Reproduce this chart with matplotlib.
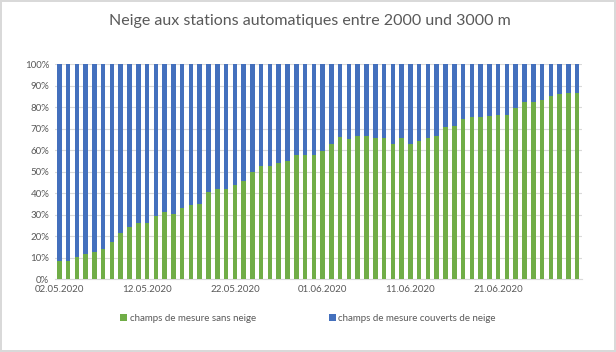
import matplotlib
matplotlib.use("Agg")
import matplotlib.pyplot as plt
import numpy as np
from datetime import date, timedelta

# share of measuring fields without snow (%), one per day from 02.05.2020
sans_neige = [8.7, 8.7, 10.5, 11.6, 12.7, 13.9, 17.5, 21.7, 24.1, 26.3,
              26.3, 29.4, 31.3, 30.2, 33.3, 34.5, 35.0, 40.7, 42.1, 41.8,
              43.8, 45.7, 49.7, 52.8, 52.8, 53.9, 55.0, 57.7, 57.7, 57.7,
              59.8, 62.7, 65.9, 65.0, 66.6, 66.6, 65.5, 65.5, 62.7, 65.5,
              62.8, 64.4, 65.8, 66.6, 70.6, 71.2, 74.5, 75.5, 75.5, 75.9,
              76.3, 76.3, 79.4, 82.5, 82.5, 83.3, 85.3, 85.9, 86.4, 86.4]
couverts = [100 - v for v in sans_neige]

start = date(2020, 5, 2)
dates = [start + timedelta(days=i) for i in range(len(sans_neige))]
tick_idx = list(range(0, len(dates), 10))
tick_labels = [dates[i].strftime("%d.%m.%Y") for i in tick_idx]

green = "#70AD47"
blue = "#4470BD"
txt = "#595959"

plt.rcParams['font.family'] = ['Lato', 'DejaVu Sans']

fig = plt.figure(figsize=(6.16, 3.52), dpi=100)
fig.patch.set_edgecolor("#D9D9D9")
fig.patch.set_linewidth(1.5)
ax = fig.add_axes([0.0891, 0.2065, 0.855, 0.6115])

x = np.arange(len(sans_neige))
ax.bar(x, sans_neige, width=0.52, color=green, label="champs de mesure sans neige", zorder=3)
ax.bar(x, couverts, width=0.52, bottom=sans_neige, color=blue,
       label="champs de mesure couverts de neige", zorder=3)

ax.set_xlim(-0.5, len(x) - 0.5)
ax.set_ylim(0, 100)
ax.set_yticks(range(0, 101, 10))
ax.set_yticklabels([f"{v}%" for v in range(0, 101, 10)])
ax.set_xticks(tick_idx)
ax.set_xticklabels(tick_labels)
ax.tick_params(axis="both", length=0, labelsize=7, colors=txt, pad=4)
ax.grid(axis="y", color="#D9D9D9", linewidth=0.8, zorder=0)
for s in ["top", "right", "left"]:
    ax.spines[s].set_visible(False)
ax.spines["bottom"].set_color("#D9D9D9")

fig.text(0.503, 0.94, "Neige aux stations automatiques entre 2000 und 3000 m",
         ha="center", va="center", fontsize=11.5, color=txt)

fig.legend(loc="center", bbox_to_anchor=(0.5, 0.095), ncol=2, frameon=False,
           fontsize=7, handlelength=0.7, handleheight=0.7, handletextpad=0.3,
           columnspacing=7.5, labelcolor=txt)

fig.savefig("out.png", dpi=100)
